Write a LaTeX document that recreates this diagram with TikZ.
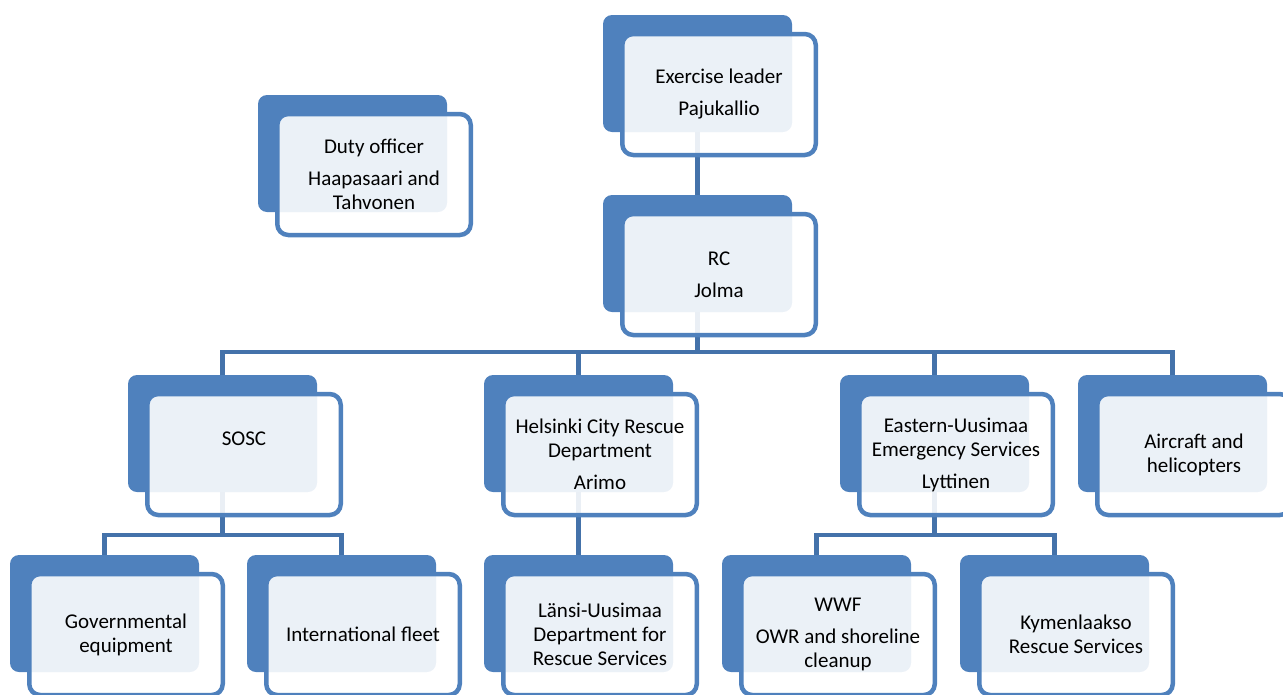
\documentclass[tikz,border=0pt]{standalone}
\usepackage{fontspec}
\setmainfont{Carlito}
\usetikzlibrary{backgrounds}
\definecolor{boxblue}{RGB}{79,129,189}
\definecolor{linkblue}{RGB}{68,114,170}
\newcommand\orgunit[4]{%
  \node[backbox] (#1) at (#2,#3) {};
  \node[frontbox, xshift=21.5pt, yshift=-21pt] (#1f) at (#1) {#4};}
\begin{document}
\begin{tikzpicture}[x=1pt,y=-1pt,
  backbox/.style={fill=boxblue, draw=none, rounded corners=9pt, minimum width=189pt, minimum height=117pt, inner sep=0pt},
  frontbox/.style={draw=boxblue, line width=4.5pt, fill=white, fill opacity=0.89, text opacity=1, rounded corners=11pt,
    minimum width=193.5pt, minimum height=121pt, inner sep=0pt, align=center, text=black,
    font=\fontsize{21}{24}\selectfont},
  link/.style={draw=linkblue, line width=4.5pt}]
\useasboundingbox (0,0) rectangle (1283,694);
\clip (0,0) rectangle (1283,694);
\orgunit{el}{697.5}{73.5}{Exercise leader\\[8pt]Pajukallio}
\orgunit{duty}{352.5}{153.5}{Duty officer\\[8pt]Haapasaari and\\Tahvonen}
\orgunit{rc}{697.5}{253.5}{RC\\[8pt]Jolma}
\orgunit{sosc}{222.5}{433.5}{SOSC\\[8pt]~}
\orgunit{hel}{578.5}{433.5}{Helsinki City Rescue\\Department\\[8pt]Arimo}
\orgunit{east}{934.5}{433.5}{Eastern-Uusimaa\\Emergency Services\\[8pt]Lyttinen}
\orgunit{air}{1172.5}{433.5}{Aircraft and\\helicopters}
\orgunit{gov}{104.5}{613.5}{Governmental\\equipment}
\orgunit{intl}{341.5}{613.5}{International fleet}
\orgunit{lansi}{578.5}{613.5}{Länsi-Uusimaa\\Department for\\Rescue Services}
\orgunit{wwf}{816.5}{613.5}{WWF\\[8pt]OWR and shoreline\\cleanup}
\orgunit{kym}{1054.5}{613.5}{Kymenlaakso\\Rescue Services}
\begin{scope}[on background layer]
  \coordinate (bus1) at (697.5,352);
  \coordinate (bus2) at (222.5,535);
  \coordinate (bus3) at (934.5,535);
  \draw[link] (el.south) -- (rc.north);
  \draw[link] (rc.south) -- (bus1);
  \draw[link] (sosc.north) |- (bus1);
  \draw[link] (hel.north) |- (bus1);
  \draw[link] (east.north) |- (bus1);
  \draw[link] (air.north) |- (bus1);
  \draw[link] (sosc.south) -- (bus2);
  \draw[link] (gov.north) |- (bus2);
  \draw[link] (intl.north) |- (bus2);
  \draw[link] (hel.south) -- (lansi.north);
  \draw[link] (east.south) -- (bus3);
  \draw[link] (wwf.north) |- (bus3);
  \draw[link] (kym.north) |- (bus3);
\end{scope}
\end{tikzpicture}
\end{document}
